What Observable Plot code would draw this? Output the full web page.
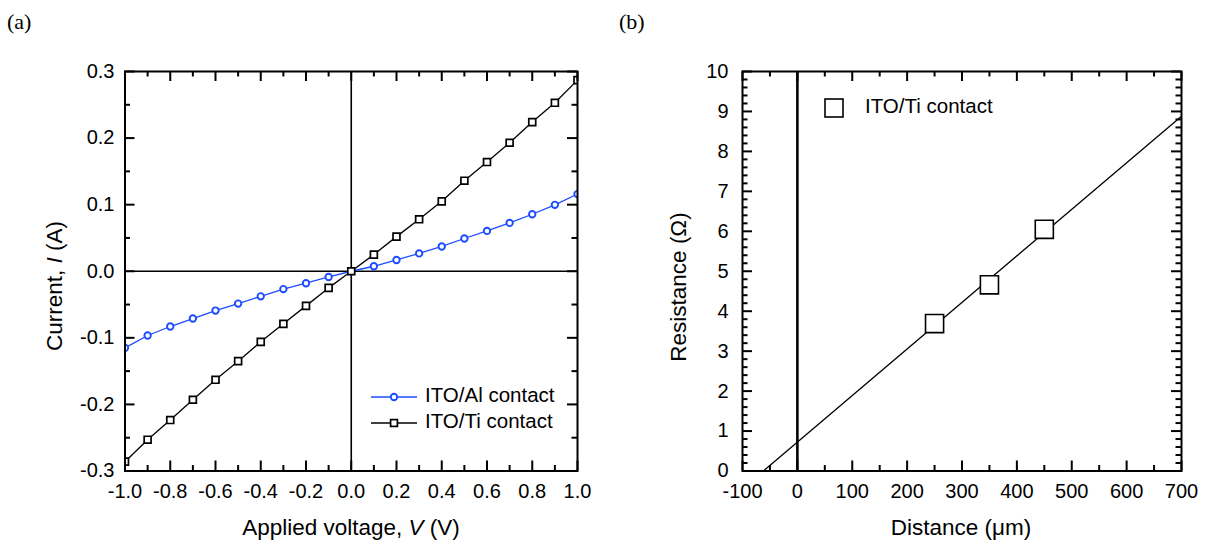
<!DOCTYPE html>
<html><head><meta charset="utf-8">
<script src="https://cdn.jsdelivr.net/npm/d3@7"></script>
<script src="https://cdn.jsdelivr.net/npm/@observablehq/plot@0.6"></script>
<style>
body{margin:0;background:#fff;}
#wrap{position:relative;width:1206px;height:542px;overflow:hidden;}
.panel{position:absolute;top:0;}
.plabel{position:absolute;top:9px;font-family:"Liberation Serif","Times New Roman",serif;font-size:22px;color:#000;}
</style></head>
<body><div id="wrap"></div>
<script>
// ---------- Panel (a) data ----------
const voltage   = [-1.0,-0.9,-0.8,-0.7,-0.6,-0.5,-0.4,-0.3,-0.2,-0.1,0,0.1,0.2,0.3,0.4,0.5,0.6,0.7,0.8,0.9,1.0];
const currentAl = [-0.115,-0.0965,-0.083,-0.071,-0.059,-0.0486,-0.0377,-0.0268,-0.018,-0.0086,0,0.0075,0.0169,0.0268,0.0372,0.0492,0.0606,0.0726,0.0856,0.0997,0.116];
const currentTi = [-0.286,-0.253,-0.2235,-0.193,-0.163,-0.135,-0.106,-0.079,-0.052,-0.025,0,0.025,0.052,0.078,0.105,0.136,0.164,0.193,0.224,0.253,0.287];
const seriesNamesA = ["ITO/Al contact","ITO/Ti contact"];
const xTicksA  = [-1.0,-0.8,-0.6,-0.4,-0.2,0.0,0.2,0.4,0.6,0.8,1.0];
const xMinorA  = [-0.9,-0.7,-0.5,-0.3,-0.1,0.1,0.3,0.5,0.7,0.9];
const yTicksA  = [-0.3,-0.2,-0.1,0.0,0.1,0.2,0.3];
const yMinorA  = [-0.25,-0.15,-0.05,0.05,0.15,0.25];

// ---------- Panel (b) data ----------
const distance   = [250,350,450];
const resistance = [3.69,4.66,6.05];
const fitDistance   = [-62,700];
const fitResistance = [0,8.88];
const seriesNameB = "ITO/Ti contact";
const xTicksB = [-100,0,100,200,300,400,500,600,700];
const xMinorB = [-50,50,150,250,350,450,550,650];
const yTicksB = [0,1,2,3,4,5,6,7,8,9,10];
const yMinorB = [0.2,0.4,0.6,0.8,1.2,1.4,1.6,1.8,2.2,2.4,2.6,2.8,3.2,3.4,3.6,3.8,4.2,4.4,4.6,4.8,5.2,5.4,5.6,5.8,6.2,6.4,6.6,6.8,7.2,7.4,7.6,7.8,8.2,8.4,8.6,8.8,9.2,9.4,9.6,9.8];

const BLUE = "#1c4cff";
const FONT = "'Liberation Sans', Arial, sans-serif";
const MAJ = 10, MIN = 5.5, TICKW = 2;
const H = 542, MT = 71, MB = 71.5;
const FH = H - MT - MB;
const STYLE = {fontFamily: FONT, fontSize: "20px", color: "#000", background: "transparent"};

// Overlay plot: tick labels, inward ticks on all four sides, and the frame
function axesPlot(W, ML, MR, xDomain, yDomain, xMaj, xMin, yMaj, yMin, fmtX, fmtY, xGap, yGap) {
  const FW = W - ML - MR;
  const tk = {stroke: "#000", strokeWidth: TICKW};
  return Plot.plot({
    width: W, height: H, marginLeft: ML, marginRight: MR, marginTop: MT, marginBottom: MB,
    x: {domain: xDomain}, y: {domain: yDomain}, style: STYLE,
    marks: [
      Plot.axisX(xMaj, {anchor: "bottom", tickSize: 0, tickPadding: xGap, tickFormat: fmtX, fontSize: 20, label: null}),
      Plot.axisY(yMaj, {anchor: "left", tickSize: 0, tickPadding: yGap, tickFormat: fmtY, fontSize: 20, label: null}),
      Plot.tickX(xMaj, {...tk, insetTop: FH - MAJ}),
      Plot.tickX(xMin, {...tk, insetTop: FH - MIN}),
      Plot.tickX(xMaj, {...tk, insetBottom: FH - MAJ}),
      Plot.tickX(xMin, {...tk, insetBottom: FH - MIN}),
      Plot.tickY(yMaj, {...tk, insetRight: FW - MAJ}),
      Plot.tickY(yMin, {...tk, insetRight: FW - MIN}),
      Plot.tickY(yMaj, {...tk, insetLeft: FW - MAJ}),
      Plot.tickY(yMin, {...tk, insetLeft: FW - MIN}),
      Plot.frame({stroke: "#000", strokeWidth: 2})
    ]
  });
}

// ---------- Panel (a) ----------
const WA = 600, MLA = 124.5, MRA = 23;
const dataA = voltage.map((v, i) => ({v, al: currentAl[i], ti: currentTi[i]}));
const plotA = Plot.plot({
  width: WA, height: H,
  marginLeft: MLA, marginRight: MRA, marginTop: MT, marginBottom: MB,
  x: {domain: [-1, 1], axis: null},
  y: {domain: [-0.3, 0.3], axis: null},
  style: STYLE,
  marks: [
    Plot.ruleY([0], {stroke: "#000", strokeWidth: 1.6}),
    Plot.ruleX([0], {stroke: "#000", strokeWidth: 1.6}),
    Plot.line(dataA, {x: "v", y: "al", stroke: BLUE, strokeWidth: 1.3}),
    Plot.line(dataA, {x: "v", y: "ti", stroke: "#000", strokeWidth: 1.3}),
    Plot.dot(dataA, {x: "v", y: "al", r: 3.2, stroke: BLUE, strokeWidth: 1.9, fill: "#fff", clip: true}),
    Plot.dot(dataA, {x: "v", y: "ti", symbol: "square", r: 3.9, stroke: "#000", strokeWidth: 1.7, fill: "#fff", clip: true})
  ]
});
const axA = axesPlot(WA, MLA, MRA, [-1, 1], [-0.3, 0.3], xTicksA, xMinorA, yTicksA, yMinorA,
  d => d.toFixed(1), d => d.toFixed(1), 13, 10.5);

// ---------- Panel (b) ----------
const WB = 606, MLB = 142, MRB = 25;
const dataB = distance.map((d, i) => ({d, r: resistance[i]}));
const fitB  = fitDistance.map((d, i) => ({d, r: fitResistance[i]}));
const plotB = Plot.plot({
  width: WB, height: H,
  marginLeft: MLB, marginRight: MRB, marginTop: MT, marginBottom: MB,
  x: {domain: [-100, 700], axis: null},
  y: {domain: [0, 10], axis: null},
  style: STYLE,
  marks: [
    Plot.ruleX([0], {stroke: "#000", strokeWidth: 2.6}),
    Plot.line(fitB, {x: "d", y: "r", stroke: "#000", strokeWidth: 1.3}),
    Plot.dot(dataB, {x: "d", y: "r", symbol: "square", r: 10.2, stroke: "#000", strokeWidth: 1.6, fill: "#fff"})
  ]
});
const axB = axesPlot(WB, MLB, MRB, [-100, 700], [0, 10], xTicksB, xMinorB, yTicksB, yMinorB,
  d => String(d), d => String(d), 13, 14);

const wrap = document.getElementById("wrap");
function addLayer(svg, left, z) {
  const div = document.createElement("div");
  div.className = "panel";
  div.style.left = left + "px";
  div.style.zIndex = z;
  div.style.pointerEvents = "none";
  div.appendChild(svg);
  wrap.appendChild(div);
}
addLayer(plotA, 0, 1);
addLayer(plotB, 600, 1);
addLayer(axA, 0, 2);
addLayer(axB, 600, 2);

// ---------- axis titles & legends (text) ----------
function title(svg, x, y, parts, rotate) {
  const t = d3.select(svg).append("text")
    .attr("transform", `translate(${x},${y})` + (rotate ? " rotate(-90)" : ""))
    .attr("text-anchor", "middle").attr("dominant-baseline", "middle")
    .attr("font-family", FONT).attr("font-size", 22.5).attr("fill", "#000");
  parts.forEach(([s, it]) => {
    const ts = t.append("tspan").text(s);
    if (it) ts.attr("font-style", "italic");
  });
}
title(plotA, 351, 529, [["Applied voltage, ", false], ["V", true], [" (V)", false]], false);
title(plotA, 56, 286, [["Current, ", false], ["I", true], [" (A)", false]], true);
title(plotB, 361, 529, [["Distance (\u03bcm)", false]], false);
title(plotB, 80, 287, [["Resistance (\u03a9)", false]], true);

// legend panel (a)
const sa = d3.select(plotA);
const legA = [
  {name: seriesNamesA[0], y: 397, color: BLUE, sym: "circle"},
  {name: seriesNamesA[1], y: 423, color: "#000", sym: "square"}
];
legA.forEach(l => {
  sa.append("line").attr("x1", 371).attr("x2", 417).attr("y1", l.y).attr("y2", l.y)
    .attr("stroke", l.color).attr("stroke-width", 1.3);
  if (l.sym === "circle") {
    sa.append("circle").attr("cx", 394).attr("cy", l.y).attr("r", 3.2)
      .attr("fill", "#fff").attr("stroke", l.color).attr("stroke-width", 1.9);
  } else {
    sa.append("rect").attr("x", 394 - 3.4).attr("y", l.y - 3.4).attr("width", 6.8).attr("height", 6.8)
      .attr("fill", "#fff").attr("stroke", l.color).attr("stroke-width", 1.7);
  }
  sa.append("text").attr("x", 425).attr("y", l.y).attr("dominant-baseline", "middle").attr("text-anchor", "start")
    .attr("font-family", FONT).attr("font-size", 20.5).attr("fill", "#000").text(l.name);
});

// legend panel (b)
const sb = d3.select(plotB);
sb.append("rect").attr("x", 234 - 9).attr("y", 108 - 9).attr("width", 18).attr("height", 18)
  .attr("fill", "#fff").attr("stroke", "#000").attr("stroke-width", 1.6);
sb.append("text").attr("x", 265).attr("y", 108).attr("dominant-baseline", "middle").attr("text-anchor", "start")
  .attr("font-family", FONT).attr("font-size", 20.5).attr("fill", "#000").text(seriesNameB);

// panel letters
const la = document.createElement("div"); la.className = "plabel"; la.style.left = "7px"; la.textContent = "(a)";
const lb = document.createElement("div"); lb.className = "plabel"; lb.style.left = "619px"; lb.textContent = "(b)";
wrap.appendChild(la); wrap.appendChild(lb);
</script>
</body></html>
